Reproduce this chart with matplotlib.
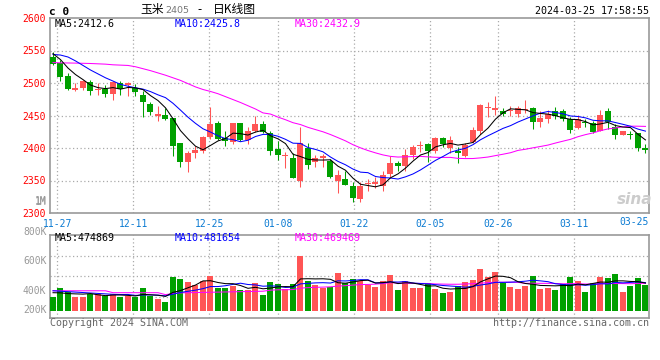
import matplotlib
matplotlib.use("Agg")
import matplotlib.pyplot as plt
import numpy as np
import pandas as pd
from matplotlib.transforms import blended_transform_factory

# ---------------- data ----------------
tick_labels = ["11-27", "12-11", "12-25", "01-08", "01-22", "02-05", "02-26", "03-11"]
tick_idx = [1, 11, 21, 30, 40, 50, 59, 69]
last_label = "03-25"

opens = [2540.5, 2531.3, 2511, 2490, 2492.4, 2502, 2488.5, 2490, 2483.7, 2500,
         2496.4, 2492, 2482, 2467, 2450, 2450, 2445.4, 2407, 2378.6, 2392,
         2395.4, 2416.9, 2438.8, 2415.8, 2409, 2437.8, 2412.3, 2425.5, 2436.2, 2422.5,
         2398, 2387, 2384, 2349, 2400.5, 2378.6, 2385, 2380, 2350, 2352,
         2341.9, 2321.5, 2344, 2344, 2341, 2359.7, 2376.5, 2372.5, 2389, 2403,
         2405.6, 2395.4, 2415, 2400.5, 2395.4, 2388, 2409, 2426.4, 2461.7, 2458,
         2456.6, 2456.6, 2453, 2458.2, 2461.7, 2439.8, 2443.9, 2456.6, 2456.6, 2444.9,
         2431.1, 2439.8, 2438.8, 2426, 2456.6, 2432.6, 2419.4, 2421.4, 2422.5, 2400.5]
highs = [2547, 2536, 2515, 2500, 2505, 2505, 2500, 2497, 2502.5, 2503,
         2501.5, 2499, 2487, 2471, 2465, 2462, 2446, 2407, 2395.4, 2403,
         2418.4, 2463.5, 2441, 2425.5, 2439, 2439, 2431.7, 2450, 2441.3, 2426,
         2410.7, 2394, 2393, 2432, 2407, 2390, 2391.5, 2383, 2366, 2365,
         2347, 2347, 2353, 2356, 2365, 2388, 2380, 2398, 2404, 2411,
         2407, 2417.5, 2417.5, 2418.4, 2402, 2408, 2432.7, 2467.8, 2470.4, 2479.6,
         2461.7, 2465.3, 2465.3, 2474.5, 2463.3, 2456.6, 2458.2, 2463.3, 2460.2, 2448,
         2451.5, 2443.9, 2441.3, 2458.2, 2461.7, 2436.2, 2426, 2426, 2422.5, 2405.6]
lows = [2528, 2503.5, 2490, 2487, 2490, 2482, 2481, 2478, 2474.5, 2482,
        2479.6, 2479.6, 2448, 2451.5, 2441, 2443, 2387.8, 2371, 2363, 2385,
        2393, 2413.3, 2412, 2403, 2405.6, 2410.7, 2405.6, 2424.5, 2422.5, 2390,
        2381.6, 2370, 2354, 2340, 2368, 2371, 2371, 2354.6, 2331, 2343,
        2317.4, 2316.4, 2334, 2339, 2334, 2356, 2365, 2365, 2383, 2394,
        2378.6, 2393, 2402, 2393, 2376.5, 2385.6, 2407, 2421.3, 2448, 2451.5,
        2450, 2450, 2448, 2454, 2428.6, 2432.6, 2437.8, 2444.9, 2441.3, 2422.5,
        2429.6, 2432.6, 2422.5, 2426, 2428.6, 2413.3, 2419.4, 2414.3, 2395.4, 2391.8]
closes = [2528.8, 2510, 2491.3, 2493, 2503, 2487, 2490, 2483.7, 2501, 2491,
          2500, 2486.7, 2470.4, 2455, 2453, 2444, 2403, 2378.6, 2392, 2396.4,
          2416.4, 2436.2, 2413.3, 2410.7, 2437.8, 2412.3, 2425.5, 2436.2, 2424.5, 2395.4,
          2388.8, 2389, 2354, 2407, 2374, 2384, 2388.3, 2356, 2357.7, 2343,
          2322.5, 2342, 2346, 2348, 2358, 2376.5, 2372.5, 2390, 2402, 2405,
          2395.4, 2416, 2406, 2413, 2392, 2404, 2427.6, 2465.7, 2463.7, 2461,
          2452.6, 2458.2, 2461.7, 2460.2, 2439.8, 2445.9, 2453, 2450, 2443.9, 2427.6,
          2443.9, 2437.8, 2424.5, 2451.5, 2439.8, 2419.4, 2426, 2420.4, 2400, 2396.4]
volumes = [383900, 442500, 417700, 381600, 381600, 401900, 401900, 388400, 401900, 383900,
           388400, 381600, 442500, 388400, 368100, 350000, 516800, 503300, 483000, 460500,
           489800, 523600, 442500, 444700, 458200, 428900, 428900, 476300, 395100, 483000,
           469500, 437900, 469500, 661000, 489800, 462700, 442500, 451500, 546000, 474000,
           503300, 489800, 462700, 451500, 489800, 530300, 428900, 489800, 442500, 442500,
           476300, 435700, 408700, 415400, 456000, 483000, 496500, 570900, 516800, 550600,
           474000, 449200, 435700, 456000, 523600, 435700, 442500, 428900, 469500, 516800,
           489800, 415400, 476300, 516800, 510000, 537100, 415400, 456000, 510000, 462700]

# moving-average values at the left edge (history before the window)
ma5_head = [2545, 2536, 2523, 2513]
ma10_head = [2544, 2543, 2540, 2534, 2527, 2520, 2514, 2508, 2503]
ma30_head = [2531.5, 2531, 2530.8, 2530.6, 2530.3, 2530, 2529.5, 2529, 2528, 2527.5,
             2527, 2525, 2522, 2519, 2515.5, 2512, 2508, 2504, 2499, 2494,
             2490, 2487, 2483.5, 2479, 2474.5, 2470, 2465, 2460, 2454]
vma5_head = [411000, 410000, 405000, 403000]
vma10_head = [424000, 421000, 418000, 415000, 412000, 409000, 406000, 403000, 400000]
vma30_head = [424000] * 8 + [411000] * 7 + [398000, 405000, 410000, 411000, 412000, 413000,
                                           414000, 415000, 416000, 417000, 418000, 419000,
                                           420000, 421000]

price_ticks = [2300, 2350, 2400, 2450, 2500, 2550, 2600]
vol_labels = [("1M", 1000000), ("800K", 800000), ("600K", 600000), ("400K", 400000)]

# ---------------- derived ----------------
o = np.array(opens); h = np.array(highs); l = np.array(lows); c = np.array(closes)
v = np.array(volumes, dtype=float)
x = np.arange(len(c))

def ma(arr, n, head):
    m = pd.Series(arr).rolling(n).mean().values
    m[:n - 1] = head
    return m

ma5 = ma(c, 5, ma5_head); ma10 = ma(c, 10, ma10_head); ma30 = ma(c, 30, ma30_head)
vma5 = ma(v, 5, vma5_head); vma10 = ma(v, 10, vma10_head); vma30 = ma(v, 30, vma30_head)

RED = "#ff5555"
GREEN = "#00a000"
GRID = "#aaaaaa"
FRAME = "#999999"
DATEC = "#0a7ad2"
MONO = "DejaVu Sans Mono"
CJK = ["Noto Sans CJK SC", "DejaVu Sans"]

plt.rcParams["font.family"] = [MONO, "Noto Sans CJK SC"]

W, H = 660, 360
fig = plt.figure(figsize=(6.6, 3.6), dpi=100)

def fx(px):
    return px / W

def fy(py):
    return 1 - py / H

ax = fig.add_axes([fx(50), fy(213), 599 / W, 195 / H])
axv = fig.add_axes([fx(50), fy(318), 599 / W, 83.3 / H])

xlim = (-0.4, 79.47)
grid_x = [i * 76 / 75 - 0.44 for i in tick_idx]
dots = (0, (1, 2))
LW = 0.75

up = c >= o
cols = np.where(up, RED, GREEN)

# ---- price panel ----
ax.vlines(x, l, h, colors=cols, linewidth=LW, zorder=3)
body_bot = np.minimum(o, c)
body_h = np.maximum(np.abs(c - o), 1.3)
ax.bar(x, body_h, bottom=body_bot, width=0.8, color=cols, linewidth=0, zorder=4)
ax.plot(x, ma30, color="#ff00ff", lw=LW, zorder=5)
ax.plot(x, ma10, color="#0000ff", lw=LW, zorder=5)
ax.plot(x, ma5, color="black", lw=LW, zorder=5)

for yv in price_ticks[1:-1]:
    ax.axhline(yv, color=GRID, lw=0.9, ls=dots, zorder=1)
for gx in grid_x:
    ax.axvline(gx, color=GRID, lw=0.9, ls=dots, zorder=1)

ax.set_xlim(*xlim)
ax.set_ylim(2300, 2600)
ax.set_yticks(price_ticks)
ax.set_yticklabels([str(t) for t in price_ticks])
ax.tick_params(axis="y", length=0, pad=3, labelsize=7, labelcolor="#ff0000")
ax.set_xticks(grid_x)
ax.set_xticklabels(tick_labels)
ax.tick_params(axis="x", length=0, pad=4, labelsize=7, labelcolor=DATEC)
ax.text(xlim[1], -0.02, last_label, transform=blended_transform_factory(ax.transData, ax.transAxes),
        ha="right", va="top", fontsize=7, color=DATEC, family=MONO)
for s in ax.spines.values():
    s.set_color(FRAME)
    s.set_linewidth(1.2)

# ---- volume panel ----
base = 289000
axv.bar(x, v - base, bottom=base, width=0.8, color=cols, linewidth=0, zorder=3)
axv.plot(x, vma30, color="#ff00ff", lw=LW, zorder=5)
axv.plot(x, vma10, color="#0000ff", lw=LW, zorder=5)
axv.plot(x, vma5, color="black", lw=LW, zorder=5)
for f in (0.25, 0.5, 0.75):
    axv.plot([0, 1], [f, f], transform=axv.transAxes, color=GRID, lw=0.9, ls=dots, zorder=1)
for gx in grid_x:
    axv.axvline(gx, color=GRID, lw=0.9, ls=dots, zorder=1)
axv.set_xlim(*xlim)
axv.set_ylim(240000, 803000)
axv.set_xticks([])
axv.set_yticks([])
for s in axv.spines.values():
    s.set_color(FRAME)
    s.set_linewidth(1.2)
tv = blended_transform_factory(axv.transAxes, axv.transData)
for lab, val in vol_labels:
    axv.text(-0.006, val + 2000, lab, transform=tv, ha="right", va="baseline",
             fontsize=7, color="#999999", clip_on=False)
axv.text(-0.006, (318 - 310) / 83.3, "200K", transform=axv.transAxes, ha="right",
         va="center", fontsize=7, color="#999999", clip_on=False)

# ---- texts ----
fig.text(fx(49), fy(12), "c 0", fontsize=8, fontweight="bold", family=MONO, va="center")
fig.text(fx(140), fy(10), "玉米", fontsize=8.5, family=CJK, va="center")
fig.text(fx(165.5), fy(10.5), "2405", fontsize=6.8, family="DejaVu Sans", color="#777777", va="center")
fig.text(fx(200), fy(10), "-", fontsize=8.5, family=CJK, va="center", ha="center")
fig.text(fx(213), fy(10), "日K线图", fontsize=8.5, family=CJK, va="center")
fig.text(fx(649), fy(11.2), "2024-03-25 17:58:55", fontsize=7.2, family=MONO, ha="right", va="center")

fig.text(fx(54.3), fy(23.7), "MA5:2412.6", fontsize=7.2, family=MONO, color="black", va="center")
fig.text(fx(175), fy(23.7), "MA10:2425.8", fontsize=7.2, family=MONO, color="#0000ff", va="center")
fig.text(fx(295), fy(23.7), "MA30:2432.9", fontsize=7.2, family=MONO, color="#ff00ff", va="center")

fig.text(fx(54.3), fy(238.3), "MA5:474869", fontsize=7.2, family=MONO, color="black", va="center")
fig.text(fx(175), fy(238.3), "MA10:481654", fontsize=7.2, family=MONO, color="#0000ff", va="center")
fig.text(fx(295), fy(238.3), "MA30:469469", fontsize=7.2, family=MONO, color="#ff00ff", va="center")

fig.text(fx(46.5), fy(201), "1M", fontsize=7, family=MONO, color="#999999", ha="right", va="center")

fig.text(fx(50), fy(323.3), "Copyright 2024 SINA.COM", fontsize=7.2, family=MONO, color="#666666", va="center")
fig.text(fx(649), fy(323.3), "http://finance.sina.com.cn", fontsize=7.2, family=MONO, color="#666666",
         ha="right", va="center")

fig.text(fx(635), fy(199), "sina", fontsize=11, fontstyle="italic", fontweight="bold",
         family="DejaVu Sans", color="#cccccc", ha="center", va="center")

fig.savefig("out.png", dpi=100)
